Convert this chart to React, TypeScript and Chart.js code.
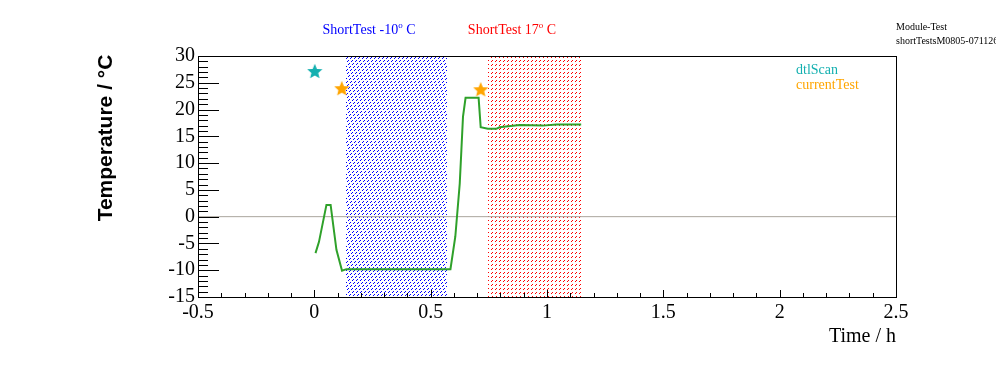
import React, { useEffect, useRef } from "react";
import { Chart, registerables } from "chart.js";

Chart.register(...registerables);

// ---- data ----
const timeH = [0.005, 0.02, 0.052, 0.07, 0.095, 0.119, 0.138, 0.585, 0.606, 0.625, 0.632, 0.639, 0.65, 0.706, 0.715, 0.746, 0.782, 0.796, 0.882, 0.982, 1.04, 1.147];
const tempC = [-6.8, -4.7, 2.2, 2.2, -6.2, -10.1, -9.8, -9.8, -3.7, 6.2, 12.4, 18.7, 22.2, 22.2, 16.7, 16.4, 16.4, 16.7, 17.1, 17.0, 17.2, 17.2];
const dtlScanT = [0.002];
const dtlScanY = [27.2];
const currentTestT = [0.118, 0.715];
const currentTestY = [24.0, 23.8];
const coldTestRange = [0.135, 0.569];
const warmTestRange = [0.745, 1.144];
const xTickValues = [-0.5, 0, 0.5, 1, 1.5, 2, 2.5];
const yTickValues = [-15, -10, -5, 0, 5, 10, 15, 20, 25, 30];
const xRange = [-0.5, 2.5];
const yRange = [-15, 30];

const GREEN = "#2fa12a";
const CYAN = "#14b0b0";
const ORANGE = "#ffa500";

function makeStar(color: string, size: number) {
  const c = document.createElement("canvas");
  c.width = size;
  c.height = size;
  const g = c.getContext("2d")!;
  const cx = size / 2, cy = size / 2;
  const R = size / 2, r = R * 0.45;
  g.beginPath();
  for (let i = 0; i < 10; i++) {
    const rad = i % 2 === 0 ? R : r;
    const a = -Math.PI / 2 + (i * Math.PI) / 5;
    const px = cx + rad * Math.cos(a);
    const py = cy + rad * Math.sin(a) + 0.8;
    if (i === 0) g.moveTo(px, py);
    else g.lineTo(px, py);
  }
  g.closePath();
  g.fillStyle = color;
  g.fill();
  return c;
}

function hatchRegion(ctx: CanvasRenderingContext2D, x0: number, x1: number, y0: number, y1: number, color: string, test: (x: number, y: number) => boolean) {
  ctx.fillStyle = color;
  const ax = Math.round(x0), bx = Math.round(x1);
  const ay = Math.round(y0), by = Math.round(y1);
  for (let y = ay; y < by; y++) {
    for (let x = ax; x < bx; x++) {
      if (test(x, y)) ctx.fillRect(x, y, 1, 1);
    }
  }
}

const hatchPlugin = {
  id: "hatch",
  beforeDatasetsDraw(chart: any) {
    const ctx: CanvasRenderingContext2D = chart.ctx;
    const xs = chart.scales.x;
    const { top, bottom } = chart.chartArea;
    ctx.save();
    hatchRegion(ctx, xs.getPixelForValue(coldTestRange[0]), xs.getPixelForValue(coldTestRange[1]), top + 1, bottom, "#0000ff",
      (x, y) => (x + y) % 4 === 0 && y % 3 !== 2);
    hatchRegion(ctx, xs.getPixelForValue(warmTestRange[0]), xs.getPixelForValue(warmTestRange[1]), top + 1, bottom, "#ff0000",
      (x, y) => (x + y) % 4 === 0 && y % 4 < 2);
    ctx.restore();
  },
};

function drawSupText(ctx: CanvasRenderingContext2D, parts: [string, boolean][], cx: number, y: number, color: string) {
  const big = "14px 'Liberation Serif', serif";
  const small = "9px 'Liberation Serif', serif";
  let total = 0;
  parts.forEach(([t, sup]) => {
    ctx.font = sup ? small : big;
    total += ctx.measureText(t).width;
  });
  let x = cx - total / 2;
  ctx.fillStyle = color;
  ctx.textAlign = "left";
  ctx.textBaseline = "alphabetic";
  parts.forEach(([t, sup]) => {
    ctx.font = sup ? small : big;
    ctx.fillText(t, x, sup ? y - 6 : y);
    x += ctx.measureText(t).width;
  });
}

const decorPlugin = {
  id: "decor",
  afterDraw(chart: any) {
    const ctx: CanvasRenderingContext2D = chart.ctx;
    const { left, right, top, bottom } = chart.chartArea;
    const xs = chart.scales.x;
    const ys = chart.scales.y;
    ctx.save();
    // frame
    ctx.strokeStyle = "#000";
    ctx.lineWidth = 1;
    ctx.strokeRect(Math.round(left) + 0.5, Math.round(top) + 0.5, Math.round(right - left), Math.round(bottom - top));
    // x ticks
    ctx.beginPath();
    for (let i = 0; i <= 30; i++) {
      const v = xRange[0] + i * 0.1;
      const px = Math.round(xs.getPixelForValue(v)) + 0.5;
      const len = i % 5 === 0 ? 7 : 4;
      ctx.moveTo(px, bottom);
      ctx.lineTo(px, bottom - len);
    }
    // y ticks
    for (let v = yRange[0]; v <= yRange[1]; v++) {
      const py = Math.round(ys.getPixelForValue(v)) + 0.5;
      const len = v % 5 === 0 ? 21 : 10;
      ctx.moveTo(left, py);
      ctx.lineTo(left + len, py);
    }
    ctx.stroke();

    // axis titles
    ctx.fillStyle = "#000";
    ctx.font = "20px 'Liberation Serif', serif";
    ctx.textAlign = "right";
    ctx.textBaseline = "alphabetic";
    ctx.fillText("Time / h", right, 342);

    ctx.save();
    ctx.translate(112, 138);
    ctx.rotate(-Math.PI / 2);
    ctx.font = "bold 21px 'Liberation Sans', Arial, sans-serif";
    ctx.textAlign = "center";
    ctx.fillText("Temperature / \u00B0C", 0, 0);
    ctx.restore();

    // test labels
    drawSupText(ctx, [["ShortTest -10", false], ["o", true], [" C", false]], 369, 34, "#0000ff");
    drawSupText(ctx, [["ShortTest 17", false], ["o", true], [" C", false]], 512, 34, "#ff0000");

    // legend
    ctx.font = "14px 'Liberation Serif', serif";
    ctx.textAlign = "left";
    ctx.textBaseline = "middle";
    ctx.fillStyle = CYAN;
    ctx.fillText("dtlScan", 796, 70);
    ctx.fillStyle = ORANGE;
    ctx.fillText("currentTest", 796, 85);

    // corner info
    ctx.fillStyle = "#000";
    ctx.font = "10px 'Liberation Serif', serif";
    ctx.fillText("Module-Test", 896, 27);
    ctx.fillText("shortTestsM0805-071126", 896, 41);
    ctx.restore();
  },
};

export default function App() {
  const ref = useRef<HTMLCanvasElement>(null);
  useEffect(() => {
    document.body.style.margin = "0";
    const canvas = ref.current!;
    const cyanStar = makeStar(CYAN, 16);
    const orangeStar = makeStar(ORANGE, 16);

    const chart = new Chart(canvas, {
      type: "line",
      data: {
        datasets: [
          {
            label: "dtlScan",
            data: dtlScanT.map((t, i) => ({ x: t, y: dtlScanY[i] })),
            showLine: false,
            pointStyle: cyanStar as any,
            pointRadius: 8,
            order: 0,
          },
          {
            label: "currentTest",
            data: currentTestT.map((t, i) => ({ x: t, y: currentTestY[i] })),
            showLine: false,
            pointStyle: orangeStar as any,
            pointRadius: 8,
            order: 0,
          },
          {
            label: "temperature",
            data: timeH.map((t, i) => ({ x: t, y: tempC[i] })),
            borderColor: GREEN,
            borderWidth: 2,
            pointRadius: 0,
            tension: 0,
            fill: false,
            order: 1,
          },
          {
            label: "zero",
            data: [{ x: xRange[0], y: 0 }, { x: xRange[1], y: 0 }],
            borderColor: "#aaa59d",
            borderWidth: 1,
            pointRadius: 0,
            fill: false,
            order: 2,
          },
        ],
      },
      options: {
        animation: false,
        responsive: false,
        events: [],
        layout: { padding: { left: 0, top: 56, right: 100, bottom: 0 } },
        plugins: { legend: { display: false }, tooltip: { enabled: false } },
        scales: {
          x: {
            type: "linear",
            min: xRange[0],
            max: xRange[1],
            afterBuildTicks: (s: any) => { s.ticks = xTickValues.map((v) => ({ value: v })); },
            afterFit: (s: any) => { s.height = 75; },
            ticks: {
              color: "#000",
              font: { family: "'Liberation Serif', serif", size: 20 },
              padding: 4,
              maxRotation: 0,
              autoSkip: false,
              callback: (v: any) => String(v),
            },
            grid: { display: false, drawTicks: false },
            border: { display: false },
          },
          y: {
            type: "linear",
            min: yRange[0],
            max: yRange[1],
            afterBuildTicks: (s: any) => { s.ticks = yTickValues.map((v) => ({ value: v })); },
            afterFit: (s: any) => { s.width = 198; },
            ticks: {
              color: "#000",
              font: { family: "'Liberation Serif', serif", size: 20 },
              padding: 3,
              autoSkip: false,
              callback: (v: any) => String(v),
            },
            grid: { display: false, drawTicks: false },
            border: { display: false },
          },
        },
      },
      plugins: [hatchPlugin, decorPlugin],
    });
    return () => chart.destroy();
  }, []);

  return (
    <div style={{ position: "absolute", left: 0, top: 0, width: 996, height: 372, background: "#fff" }}>
      <canvas ref={ref} width={996} height={372} />
    </div>
  );
}
